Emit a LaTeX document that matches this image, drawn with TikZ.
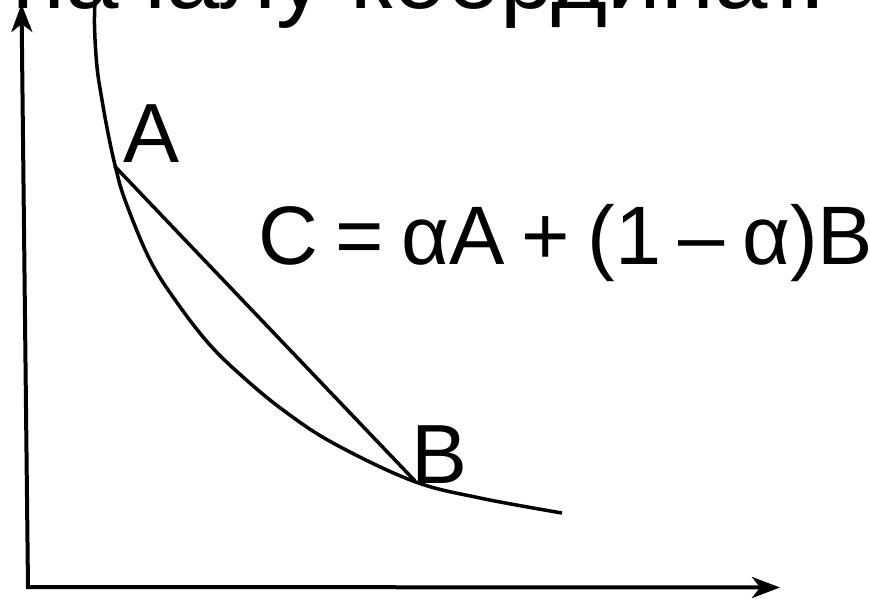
\documentclass[tikz,border=0pt]{standalone}
\usepackage{fontspec}
\setmainfont{Liberation Sans}
\newfontfamily\eqfont[WordSpace=0.75]{Liberation Sans}
\usetikzlibrary{arrows.meta}
\begin{document}
\begin{tikzpicture}[x=1pt,y=-1pt,
  axis/.style={line width=4pt, line join=miter, {Stealth[length=28pt,width=21pt,inset=8pt]}-{Stealth[length=28pt,width=21pt,inset=8pt]}},
  curveline/.style={line width=3.5pt, line join=round},
  chordline/.style={line width=3.5pt},
  labeltext/.style={inner sep=0pt, font=\fontsize{84}{100}\selectfont},
  eqtext/.style={inner sep=0pt, font=\fontsize{83}{100}\eqfont},
  titletext/.style={inner sep=0pt, font=\fontsize{96}{115}\selectfont}]
\useasboundingbox (0,0) rectangle (870,599);
\clip (0,0) rectangle (870,599);
% title (cut off at the top)
\node[titletext, anchor=base east] (title) at (826,9) {началу координат.};
% axes
\coordinate (ytip) at (21.5,4);
\coordinate (O) at (28,587);
\coordinate (xtip) at (780,587.5);
\draw[axis] (ytip) -- (O) -- (xtip);
% curve
\draw[curveline] plot[smooth, tension=0.6] coordinates {(95.5,-10) (94.5,25) (97,67) (102,100) (108,133) (115,165) (125,200) (150,260) (178,304) (210,345) (243,377) (283,410) (333,443) (413,481) (480,498) (562,513)};
% chord
\coordinate (pA) at (114.5,166);
\coordinate (pB) at (415,481);
\draw[chordline] (pA) -- (pB);
% labels
\node[labeltext, anchor=base west] (labA) at (123,163) {A};
\node[labeltext, anchor=base west] (labB) at (411,483) {B};
\node[eqtext, anchor=base west] (eq) at (258,264) {C = αA + (1 – α)B};
\end{tikzpicture}
\end{document}
